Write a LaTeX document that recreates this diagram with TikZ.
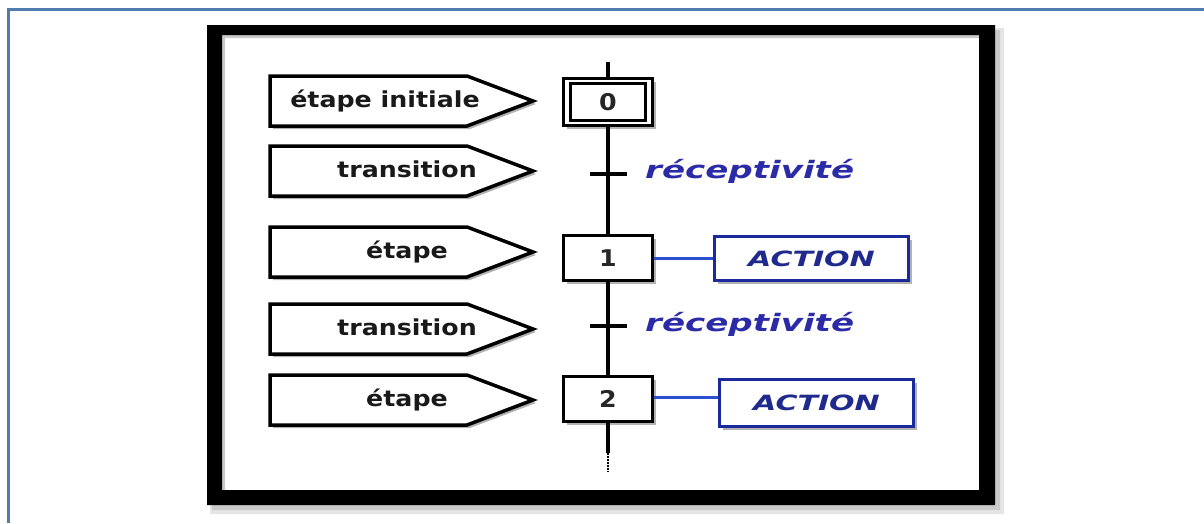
\documentclass[tikz,border=0pt]{standalone}
\usepackage{fontspec}
\newfontfamily\lblfont[FakeStretch=1.15]{DejaVu Sans}
\newfontfamily\recfont[FakeStretch=1.42]{DejaVu Sans}
\newfontfamily\actfont[FakeStretch=1.43]{DejaVu Sans}
\newfontfamily\numfont[FakeStretch=1.1]{DejaVu Sans}
\usetikzlibrary{shadows}
\definecolor{frameblue}{HTML}{4F7BB0}
\definecolor{recblue}{HTML}{2B2BA8}
\definecolor{actblue}{HTML}{1F2A8C}
\definecolor{linkblue}{HTML}{2A4FD0}
\definecolor{boxblue}{HTML}{1A2A9A}
\tikzset{
  shad/.style={drop shadow={shadow xshift=3pt, shadow yshift=-3pt, opacity=0.3, fill=black}},
  pentstyle/.style={draw=black, line width=3.5pt, fill=white, line join=miter, shad},
  lbl/.style={inner sep=0pt, anchor=base, text=black!90, font=\lblfont\bfseries\fontsize{22}{26}\selectfont},
  stepbox/.style={draw=black, line width=3.5pt, fill=white, inner sep=0pt, shad,
    font=\numfont\bfseries\fontsize{23}{27}\selectfont, text=black!85},
  innerbox/.style={draw=black, line width=2.5pt, inner sep=0pt},
  trans/.style={fill=black, inner sep=0pt, minimum width=37pt, minimum height=3.5pt},
  rail/.style={line width=3.5pt, black},
  rec/.style={inner sep=0pt, anchor=base west, text=recblue, font=\recfont\bfseries\itshape\fontsize{24}{28}\selectfont},
  actbox/.style={draw=boxblue, line width=3.5pt, fill=white, inner sep=0pt, shad,
    text=actblue, font=\actfont\bfseries\itshape\fontsize{21}{25}\selectfont},
  link/.style={linkblue, line width=3pt}
}
\begin{document}
\begin{tikzpicture}[x=1pt,y=-1pt]
\useasboundingbox (0,0) rectangle (1204,523);
\fill[white] (0,0) rectangle (1204,523);
% outer blue frame (only top and left visible)
\draw[frameblue, line width=2.5pt] (8.5,523) -- (8.5,9.5) -- (1204,9.5);
% black frame with soft shadow
\fill[black, opacity=0.10, even odd rule] (210,28) rectangle (1004,514) (225,38) rectangle (982,493);
\fill[black, opacity=0.12, even odd rule] (212,30) rectangle (1000,510) (225,38) rectangle (982,493);
\fill[black, even odd rule] (207,25) rectangle (995,505) (222,35) rectangle (979,490);

% pentagon labels
\foreach \nm/\cy/\txt/\tx in {p0/101/étape initiale/385, p1/171/transition/407, p2/252/étape/407, p3/329/transition/407, p4/400/étape/407}{
  \draw[pentstyle] (270,\cy-25) -- (467,\cy-25) -- (533,\cy) -- (467,\cy+25) -- (270,\cy+25) -- cycle;
  \node[lbl] (\nm) at (\tx,\cy+6.5) {\txt};
}

% steps
\node[stepbox, minimum width=89pt, minimum height=47pt] (s0) at (608,102) {0};
\node[innerbox, minimum width=75pt, minimum height=37pt] (s0i) at (s0.center) {};
\node[stepbox, minimum width=89pt, minimum height=45pt] (s1) at (608,258) {1};
\node[stepbox, minimum width=89pt, minimum height=45pt] (s2) at (608,399) {2};

% transitions
\node[trans] (t1) at (608,174) {};
\node[trans] (t2) at (608,326) {};

% rail
\coordinate (top) at (608,62);
\coordinate (bot) at (608,453);
\coordinate (fin) at (608,472);
\draw[rail] (top) -- (s0.north);
\draw[rail] (s0.south) -- (t1.center) -- (s1.north);
\draw[rail] (s1.south) -- (t2.center) -- (s2.north);
\draw[rail] (s2.south) -- (bot);
\draw[black, line width=2pt, dash pattern=on 1.5pt off 1.5pt] (bot) -- (fin);

% receptivities
\node[rec] (r1) at (645,178) {réceptivité};
\node[rec] (r2) at (645,331) {réceptivité};

% actions
\node[actbox, minimum width=194pt, minimum height=44pt] (a1) at (811.5,258.5) {ACTION};
\node[actbox, minimum width=194pt, minimum height=47pt] (a2) at (816.5,403) {ACTION};
\draw[link] (s1.east) -- (s1.east -| a1.west);
\draw[link] ([yshift=2pt]s2.east) -- ([yshift=2pt]s2.east -| a2.west);
\end{tikzpicture}
\end{document}
